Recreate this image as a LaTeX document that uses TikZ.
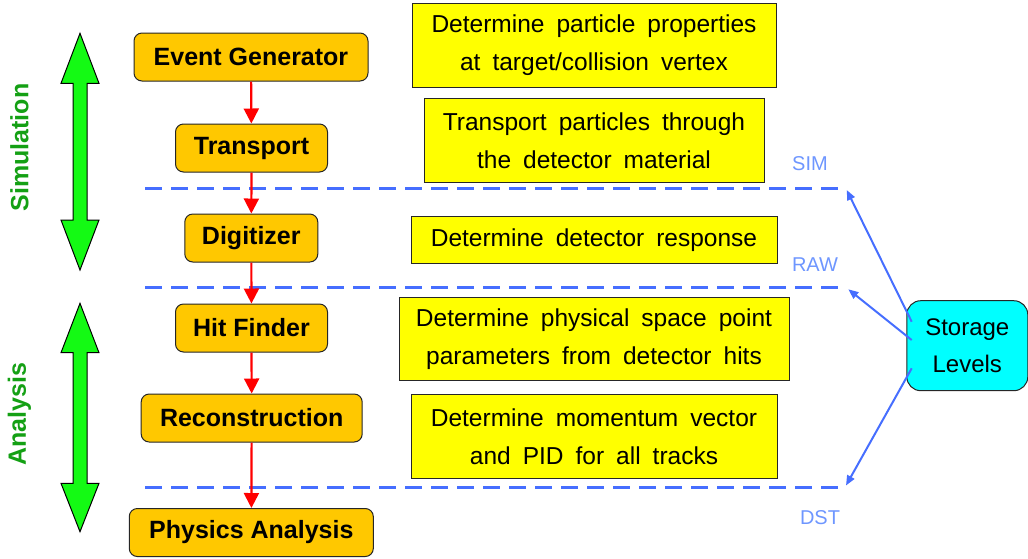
\documentclass[tikz,border=0pt]{standalone}
\usepackage{fontspec}
\setmainfont{Liberation Sans}
\usetikzlibrary{arrows.meta}
\definecolor{boxorange}{RGB}{255,200,0}
\definecolor{boxyellow}{RGB}{255,255,0}
\definecolor{lvlblue}{RGB}{70,110,255}
\definecolor{lvltext}{RGB}{110,150,255}
\definecolor{arrgreen}{RGB}{20,250,20}
\definecolor{lblgreen}{RGB}{20,160,20}
\definecolor{stcyan}{RGB}{0,255,255}
\newcommand\rboxfont{\fontsize{24.5}{38}\selectfont\spaceskip=12pt\relax}
\begin{document}
\begin{tikzpicture}[x=1pt,y=-1pt,
  lbox/.style={draw=black!85, fill=boxorange, rounded corners=8pt, line width=1pt,
    minimum height=48pt, inner sep=0pt, font={\fontsize{25}{30}\selectfont\bfseries}},
  rbox/.style={draw=black!85, fill=boxyellow, line width=1pt, inner sep=0pt, align=center,
    font={\rboxfont}},
  stbox/.style={draw=black!85, fill=stcyan, rounded corners=14pt, line width=1pt, inner sep=0pt,
    align=center, minimum width=121pt, minimum height=90pt, font={\fontsize{24}{37}\selectfont}},
  flow/.style={red, line width=2.2pt, -{Triangle[width=15pt,length=15pt]}},
  lvlline/.style={lvlblue, line width=2.5pt, dash pattern=on 17pt off 9pt},
  lvlarrow/.style={lvlblue, line width=2pt, -{Triangle[width=8pt,length=10pt]}},
  lvllabel/.style={text=lvltext, font={\fontsize{20}{24}\selectfont}, inner sep=0pt},
  grarrow/.style={draw=black, line width=1pt, fill=arrgreen, line join=miter},
  grlabel/.style={text=lblgreen, rotate=90, font={\fontsize{25}{30}\selectfont\bfseries}, inner sep=0pt}
]
\useasboundingbox (0,0) rectangle (1028,558);

% green double arrows
\draw[grarrow] (80,33.3) -- (99,83.3) -- (87,83.3) -- (87,220) -- (99,220) -- (80,270)
  -- (61,220) -- (73,220) -- (73,83.3) -- (61,83.3) -- cycle;
\draw[grarrow] (80,303.3) -- (99,352.7) -- (87,352.7) -- (87,483.3) -- (99,483.3) -- (80,531.7)
  -- (61,483.3) -- (73,483.3) -- (73,352.7) -- (61,352.7) -- cycle;
\node[grlabel] (sim) at (19.5,147.5) {Simulation};
\node[grlabel] (ana) at (19.5,414) {Analysis};

% dashed level lines
\coordinate (simL) at (145,188.3);
\coordinate (simR) at (843,188.3);
\coordinate (rawL) at (145,287.5);
\coordinate (rawR) at (843,287.5);
\coordinate (dstL) at (145,487.7);
\coordinate (dstR) at (843,487.7);
\draw[lvlline] (simL) -- (simR);
\draw[lvlline] (rawL) -- (rawR);
\draw[lvlline] (dstL) -- (dstR);

% left chain
\node[lbox, minimum width=234pt] (eg) at (251,57) {Event Generator};
\node[lbox, minimum width=152pt] (tr) at (251.5,148) {Transport};
\node[lbox, minimum width=133pt] (dg) at (251.3,238) {Digitizer};
\node[lbox, minimum width=152pt] (hf) at (251.5,328) {Hit Finder};
\node[lbox, minimum width=221pt] (rc) at (251.7,418) {Reconstruction};
\node[lbox, minimum width=244pt] (pa) at (251.3,532.5) {Physics Analysis};

\draw[flow] (eg) -- (tr);
\draw[flow] (tr) -- (dg);
\draw[flow] (dg) -- (hf);
\draw[flow] (hf) -- (rc);
\draw[flow] (rc) -- (pa);

% right description boxes
\node[rbox, minimum width=364pt, minimum height=84pt] (d1) at (594,45.3)
  {Determine particle properties\\at target/collision vertex};
\node[rbox, minimum width=340pt, minimum height=84pt] (d2) at (594,140.5)
  {Transport particles through\\the detector material};
\node[rbox, minimum width=366pt, minimum height=46.6pt] (d3) at (594,240)
  {Determine detector response};
\node[rbox, minimum width=390pt, minimum height=83pt] (d4) at (594,338.7)
  {Determine physical space point\\parameters from detector hits};
\node[rbox, minimum width=366pt, minimum height=84pt] (d5) at (594,436.3)
  {Determine momentum vector\\and PID for all tracks};

% level labels
\node[lvllabel] (simlbl) at (810,164) {SIM};
\node[lvllabel] (rawlbl) at (815,265) {RAW};
\node[lvllabel] (dstlbl) at (820,517.5) {DST};

% storage box
\node[stbox] (st) at (967.3,345.7) {Storage\\Levels};
\coordinate (s1) at (911.7,321.7);
\coordinate (s2) at (911.7,340);
\coordinate (s3) at (911.7,368.3);
\coordinate (e1) at (846.7,190);
\coordinate (e2) at (848.3,289.3);
\coordinate (e3) at (846,485.5);
\draw[lvlarrow] (s1) -- (e1);
\draw[lvlarrow] (s2) -- (e2);
\draw[lvlarrow] (s3) -- (e3);
\end{tikzpicture}
\end{document}
